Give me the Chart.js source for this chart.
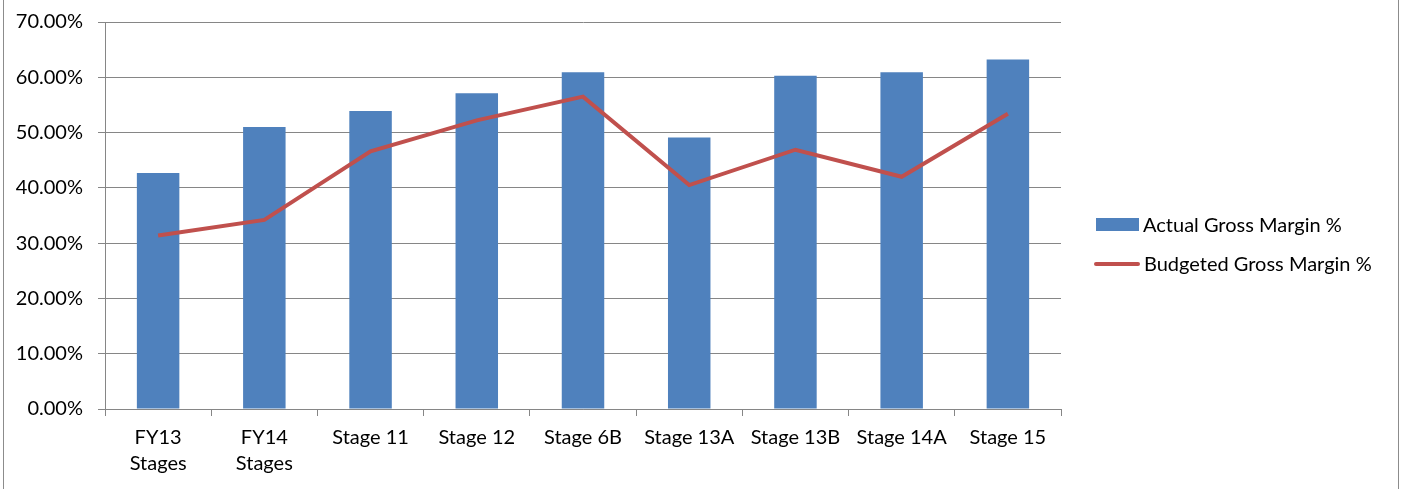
<!DOCTYPE html>
<html>
<head>
<meta charset="utf-8">
<script src="https://cdn.jsdelivr.net/npm/chart.js@4/dist/chart.umd.min.js"></script>
<style>
  body { margin: 0; background: #fff; }
  #wrap { position: relative; width: 1422px; height: 489px; overflow: hidden; }
  #myChart { position: absolute; left: 0; top: 0; }
  #frame { position: absolute; left: 3px; top: -2px; width: 1394px; height: 491px; border: 1px solid #8c8c8c; pointer-events: none; }
  .legend { position: absolute; left: 1094px; font-family: Lato, sans-serif; font-size: 20px; line-height: 24px; color: #000; white-space: nowrap; }
  .legend span.sw { display: inline-block; vertical-align: middle; margin-right: 4px; position: relative; top: -2px; }
</style>
</head>
<body>
<div id="wrap">
  <canvas id="myChart" width="1422" height="489"></canvas>
  <div id="frame"></div>
  <div class="legend" id="leg1" style="top:212px"><span class="sw" style="width:43px;height:13px;background:#4f81bd;margin-left:2px"></span>Actual Gross Margin %</div>
  <div class="legend" id="leg2" style="top:251px"><span class="sw" style="width:46px;height:4px;background:#c0504d;border-radius:2px"></span>Budgeted Gross Margin %</div>
</div>
<script>
  // categories and values (percent)
  var categories = [['FY13', 'Stages'], ['FY14', 'Stages'], 'Stage 11', 'Stage 12', 'Stage 6B', 'Stage 13A', 'Stage 13B', 'Stage 14A', 'Stage 15'];
  var actualMargin = [42.7, 51.0, 53.9, 57.1, 60.9, 49.1, 60.3, 60.9, 63.2];
  var budgetMargin = [31.4, 34.2, 46.6, 52.2, 56.5, 40.5, 46.9, 42.0, 53.4];
  var yTicks = [0, 10, 20, 30, 40, 50, 60, 70];

  var textFont = { family: 'Lato, sans-serif', size: 20, lineHeight: 1.3 };

  var data = {
    labels: categories,
    datasets: [{
      type: 'line',
      label: 'Budgeted Gross Margin %',
      data: budgetMargin,
      borderColor: '#c0504d',
      borderWidth: 4,
      pointRadius: 0,
      tension: 0,
      fill: false,
      order: 0
    }, {
      type: 'bar',
      label: 'Actual Gross Margin %',
      data: actualMargin,
      backgroundColor: '#4f81bd',
      barPercentage: 0.4,
      categoryPercentage: 1,
      order: 1
    }]
  };

  var config = {
    type: 'bar',
    data: data,
    options: {
      responsive: false,
      animation: false,
      layout: { padding: { top: 22, right: 361, left: 0, bottom: 0 } },
      plugins: {
        legend: { display: false },
        tooltip: { enabled: false }
      },
      scales: {
        x: {
          offset: true,
          afterFit: function(scale) {
            scale.height = 80;
            scale.paddingLeft = 0;
            scale.paddingRight = 0;
          },
          grid: {
            offset: true,
            drawOnChartArea: false,
            color: '#868686',
            tickLength: 7
          },
          border: { color: '#868686', width: 1 },
          ticks: {
            color: '#000',
            font: textFont,
            maxRotation: 0,
            autoSkip: false,
            padding: 9
          }
        },
        y: {
          min: 0,
          max: 70,
          afterFit: function(scale) {
            scale.width = 105;
            scale.paddingTop = 0;
            scale.paddingBottom = 0;
          },
          afterBuildTicks: function(scale) {
            scale.ticks = yTicks.map(function(v) { return { value: v }; });
          },
          grid: {
            color: '#868686',
            tickLength: 7
          },
          border: { color: '#868686', width: 1 },
          ticks: {
            color: '#000',
            font: textFont,
            padding: 15,
            callback: function(value) { return value.toFixed(2) + '%'; }
          }
        }
      }
    }
  };

  var myChart = new Chart(document.getElementById('myChart'), config);
</script>
</body>
</html>
